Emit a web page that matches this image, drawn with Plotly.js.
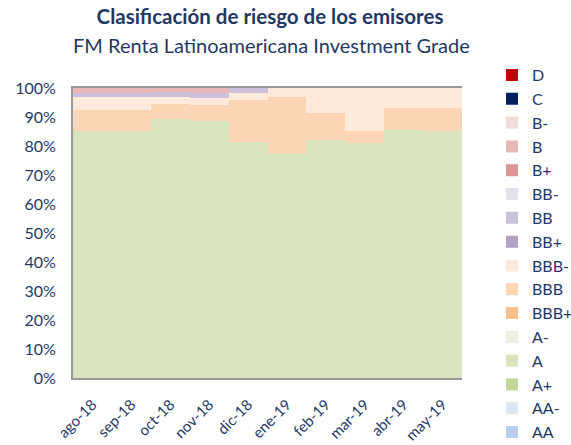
<!DOCTYPE html>
<html>
<head>
<meta charset="utf-8">
<script src="https://cdn.plot.ly/plotly-3.0.1.min.js"></script>
<style>html,body{margin:0;padding:0;background:#fff;}#chart{width:571px;height:445px;}</style>
</head>
<body>
<div id="chart"></div>
<script>
const months = ["ago-18","sep-18","oct-18","nov-18","dic-18","ene-19","feb-19","mar-19","abr-19","may-19"];
const ratings = ["AA","AA-","A+","A","A-","BBB+","BBB","BBB-","BB+","BB","BB-","B+","B","B-","C","D"];
const colors = ["#b9cde5","#dce6f2","#c3d69b","#d7e4bd","#ebf1de","#fabf8f","#fcd5b5","#fde9d9","#b3a2c7","#ccc1da","#e5e0ec","#d99694","#e6b9b8","#f2dcdb","#002060","#c00000"];
const zero = [0,0,0,0,0,0,0,0,0,0];
const valA    = [85.3, 85.3, 89.3, 88.5, 81.5, 77.3, 82.0, 81.1, 85.5, 85.2];
const valBBB  = [7.1, 7.1, 5.2, 5.5, 14.4, 19.6, 9.4, 4.1, 7.6, 7.9];
const valBBBm = [4.5, 4.5, 2.3, 2.4, 2.4, 3.1, 8.6, 14.8, 6.9, 6.9];
const valBB   = [1.5, 1.5, 1.7, 1.9, 1.7, 0, 0, 0, 0, 0];
const valB    = [1.6, 1.6, 1.5, 1.7, 0, 0, 0, 0, 0, 0];
const values = {"A": valA, "BBB": valBBB, "BBB-": valBBBm, "BB": valBB, "B": valB};
const titleText = "Clasificación de riesgo de los emisores";
const subtitleText = "FM Renta Latinoamericana Investment Grade";

const navy = "#1f3864";
const fontFam = "Lato, 'Open Sans', sans-serif";

const traces = ratings.map((r, i) => ({
  type: "bar",
  name: r,
  x: months,
  y: values[r] || zero,
  marker: {color: colors[i], line: {width: 0}},
  hoverinfo: "x+y+name"
}));

const layout = {
  width: 571, height: 445,
  margin: {l: 73, r: 109, t: 88, b: 67, autoexpand: false},
  paper_bgcolor: "#fff", plot_bgcolor: "#fff",
  barmode: "stack", bargap: 0,
  font: {family: fontFam, color: navy, size: 14},
  title: {
    text: "<b>" + titleText + "</b>",
    font: {family: fontFam, size: 20.5, color: navy},
    x: 270 / 571, xanchor: "center", xref: "container",
    y: 1 - 17 / 445, yanchor: "middle", yref: "container"
  },
  annotations: [{
    text: subtitleText, showarrow: false,
    xref: "paper", yref: "paper",
    x: (271 - 73) / 389, xanchor: "center",
    y: (378 - 45) / 290, yanchor: "middle",
    font: {family: fontFam, size: 20, color: navy}
  }],
  xaxis: {
    showline: true, linecolor: "#999", linewidth: 2, mirror: true,
    tickangle: -45, ticks: "", showgrid: false,
    ticklabelstandoff: 10,
    tickfont: {family: fontFam, size: 15, color: navy}
  },
  yaxis: {
    range: [0, 100], dtick: 10, ticksuffix: "%",
    showline: true, linecolor: "#999", linewidth: 2,
    showgrid: false, zeroline: false, ticks: "",
    ticklabelstandoff: 12,
    tickfont: {family: fontFam, size: 16, color: navy}
  },
  legend: {
    x: (492 - 73) / 389, xanchor: "left", xref: "paper",
    y: 1.103, yanchor: "top",
    font: {family: fontFam, size: 16, color: navy},
    maxheight: 1000,
    bgcolor: "rgba(0,0,0,0)"
  },
  showlegend: true
};

Plotly.newPlot("chart", traces, layout, {displayModeBar: false, staticPlot: true});
</script>
</body>
</html>
